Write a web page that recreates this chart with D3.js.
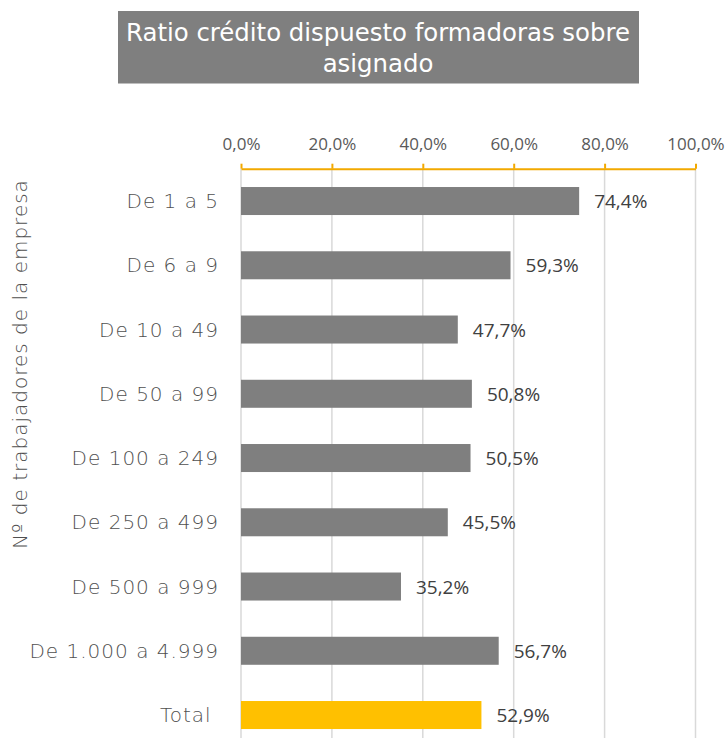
<!DOCTYPE html>
<html>
<head>
<meta charset="utf-8">
<script src="https://cdn.jsdelivr.net/npm/d3@7"></script>
<style>
  html, body { margin: 0; padding: 0; background: #fff; }
  svg { display: block; }
</style>
</head>
<body>
<svg id="chart" width="728" height="738"></svg>
<script>
const categories = ["De 1 a 5", "De 6 a 9", "De 10 a 49", "De 50 a 99", "De 100 a 249",
                    "De 250 a 499", "De 500 a 999", "De 1.000 a 4.999", "Total\u00a0"];
const values = [74.4, 59.3, 47.7, 50.8, 50.5, 45.5, 35.2, 56.7, 52.9];
const tickValues = [0, 20, 40, 60, 80, 100];
const tickLabels = ["0,0%", "20,0%", "40,0%", "60,0%", "80,0%", "100,0%"];
const titleLines = ["Ratio crédito dispuesto formadoras sobre", "asignado"];
const yTitle = "Nº de trabajadores de la empresa";

const svg = d3.select("#chart");
const W = 728, H = 738;
const geo = "'DejaVu Sans', sans-serif";
const num = "'Open Sans', 'Noto Sans', sans-serif";

// Title box
svg.append("rect").attr("x", 118).attr("y", 11).attr("width", 521).attr("height", 72.5)
  .attr("fill", "#7f7f7f");
svg.append("text").attr("x", 378).attr("y", 41).attr("text-anchor", "middle")
  .attr("font-family", geo).attr("font-size", 24.4).attr("fill", "#ffffff")
  .selectAll("tspan").data(titleLines).join("tspan")
  .attr("x", 378).attr("dy", (d, i) => i === 0 ? 0 : 31).text(d => d);

const x = d3.scaleLinear().domain([0, 100]).range([241, 695.5]);
const y = d3.scaleBand().domain(categories).range([168.9, 747.15])
  .paddingInner(0.564).paddingOuter(0.282);
const axisY = 168.7;

// gridlines
svg.append("g").selectAll("line").data(tickValues).join("line")
  .attr("x1", d => x(d)).attr("x2", d => x(d))
  .attr("y1", axisY).attr("y2", H)
  .attr("stroke", "#d9d9d9").attr("stroke-width", 1.5);

// top axis
const axis = d3.axisTop(x).tickValues(tickValues)
  .tickFormat((d, i) => tickLabels[i]).tickSizeInner(5).tickSizeOuter(0).tickPadding(14);
const gAxis = svg.append("g").attr("transform", `translate(0,${axisY})`).call(axis);
gAxis.select(".domain").attr("stroke", "#f2a900").attr("stroke-width", 2);
gAxis.selectAll(".tick line").attr("stroke", "#f2a900").attr("stroke-width", 2);
gAxis.selectAll(".tick text").attr("font-family", num).attr("font-size", 17)
  .attr("fill", "#595959");

// bars
svg.append("g").selectAll("rect").data(values).join("rect")
  .attr("x", x(0)).attr("y", (d, i) => y(categories[i]))
  .attr("width", d => x(d) - x(0)).attr("height", y.bandwidth())
  .attr("fill", (d, i) => i === categories.length - 1 ? "#ffc000" : "#7f7f7f");

// value labels
svg.append("g").selectAll("text").data(values).join("text")
  .attr("x", d => x(d) + 15)
  .attr("y", (d, i) => y(categories[i]) + y.bandwidth() / 2 + 7)
  .attr("font-family", num).attr("font-size", 19).attr("fill", "#404040")
  .text(d => d.toFixed(1).replace(".", ",") + "%");

// category labels
svg.append("g").selectAll("text").data(categories).join("text")
  .attr("x", 219).attr("y", d => y(d) + y.bandwidth() / 2 + 7)
  .attr("text-anchor", "end").attr("font-family", geo).attr("font-weight", 200)
  .attr("font-size", 20).attr("letter-spacing", 1).attr("fill", "#505050")
  .attr("xml:space", "preserve")
  .text(d => d);

// y axis title
svg.append("text").attr("transform", "translate(27,364) rotate(-90)")
  .attr("text-anchor", "middle").attr("font-family", geo).attr("font-weight", 200)
  .attr("font-size", 20).attr("letter-spacing", 1).attr("fill", "#505050").text(yTitle);
</script>
</body>
</html>
